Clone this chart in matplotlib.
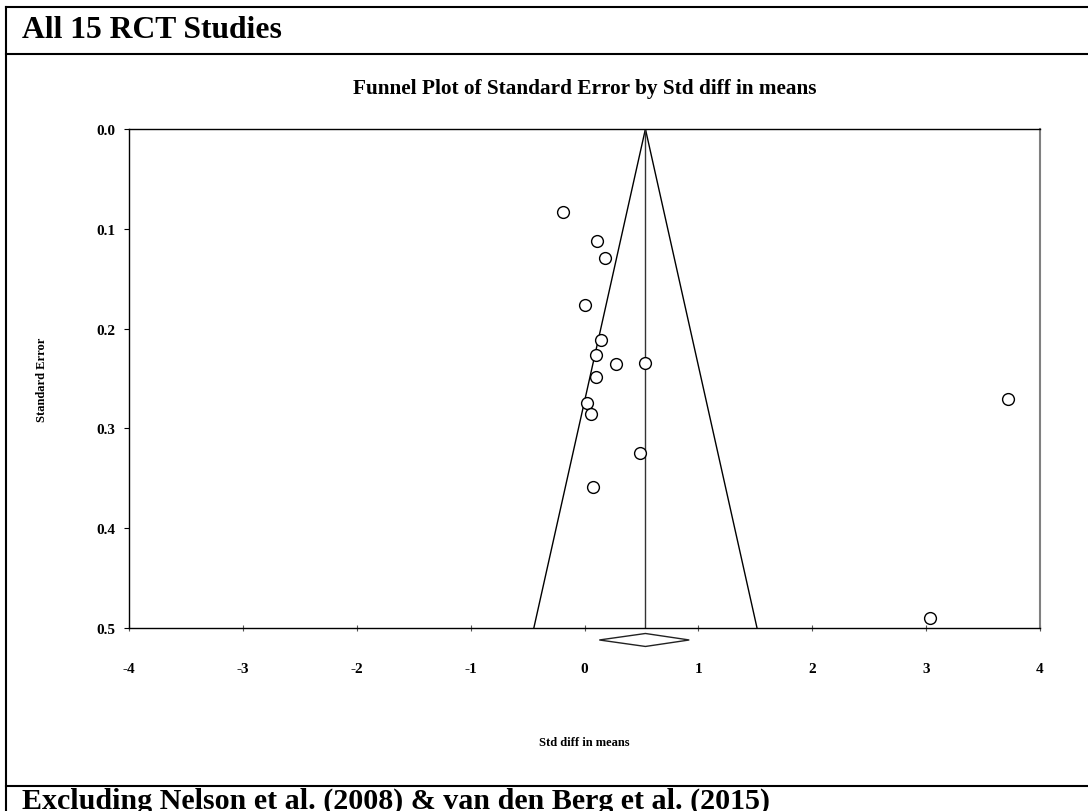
import matplotlib.pyplot as plt
from matplotlib.lines import Line2D
from matplotlib.patches import Polygon

# study level values
std_diff = [-0.19, 0.111, 0.176, 0.006, 0.146, 0.099, 0.275, 0.535,
            0.099, 0.023, 0.053, 0.486, 0.079, 3.723, 3.038]
std_err = [0.083, 0.112, 0.129, 0.176, 0.211, 0.226, 0.235, 0.234,
           0.248, 0.275, 0.286, 0.325, 0.359, 0.271, 0.490]

# pooled estimate and its confidence interval
pooled = 0.535
ci_low = 0.13
ci_high = 0.92
se_max = 0.5

x_ticks = [-4, -3, -2, -1, 0, 1, 2, 3, 4]
y_ticks = [0.0, 0.1, 0.2, 0.3, 0.4, 0.5]

plt.rcParams['font.family'] = ['Liberation Serif', 'DejaVu Serif']
plt.rcParams['font.weight'] = 'bold'

W, H = 1088, 812
fig = plt.figure(figsize=(W / 100, H / 100), dpi=100)
ax = fig.add_axes([129 / W, 1 - 629 / H, (1040 - 129) / W, (629 - 130) / H])

# funnel: pooled +/- 1.96 * SE
ax.plot([pooled - 1.96 * se_max, pooled, pooled + 1.96 * se_max],
        [se_max, 0, se_max], color='black', lw=1)
ax.plot([pooled, pooled], [0, se_max], color='#333333', lw=1)

ax.plot(std_diff, std_err, 'o', ms=8.5, mfc='white', mec='black', mew=1,
        clip_on=False, zorder=3)

# summary diamond under the axis
yc = 0.512
h = 0.0065
dia = Polygon([[ci_low, yc], [pooled, yc - h], [ci_high, yc], [pooled, yc + h]],
              closed=True, fill=False, edgecolor='#222222', lw=1, clip_on=False)
ax.add_patch(dia)

ax.set_xlim(-4, 4)
ax.set_ylim(se_max, 0)
ax.set_xticks(x_ticks)
ax.set_yticks(y_ticks)
ax.set_xticklabels([str(t) for t in x_ticks], fontsize=11, fontweight='bold')
ax.set_yticklabels(['%.1f' % t for t in y_ticks], fontsize=11, fontweight='bold')
ax.tick_params(axis='x', direction='inout', length=4.3, color='#555555', pad=22)
ax.tick_params(axis='y', direction='out', length=3.6, pad=6)

for s in ['left', 'top', 'bottom']:
    ax.spines[s].set_linewidth(1)
    ax.spines[s].set_color('black')
ax.spines['right'].set_color('#808080')
ax.spines['right'].set_linewidth(1.5)

ax.set_title('Funnel Plot of Standard Error by Std diff in means',
             fontsize=15.3, fontweight='bold', pad=26)
ax.set_xlabel('Std diff in means', fontsize=9, fontweight='bold', labelpad=44)
ax.set_ylabel('Standard Error', fontsize=9, fontweight='bold', labelpad=35)

# outer frame and section rules
lw = 1.5
fig.add_artist(Line2D([6 / W, 6 / W], [0, 1 - 8 / H], color='black', lw=lw))
for yy in [8, 55, 787]:
    fig.add_artist(Line2D([6 / W, 1], [1 - yy / H, 1 - yy / H], color='black', lw=lw))

fig.text(22 / W, 1 - 31 / H, 'All 15 RCT Studies', fontsize=22.8,
         fontweight='bold', va='center', ha='left')
fig.text(22 / W, 1 - 809 / H, 'Excluding Nelson et al. (2008) & van den Berg et al. (2015)',
         fontsize=21.6, fontweight='bold', va='baseline', ha='left')

fig.savefig('out.png', dpi=100)
